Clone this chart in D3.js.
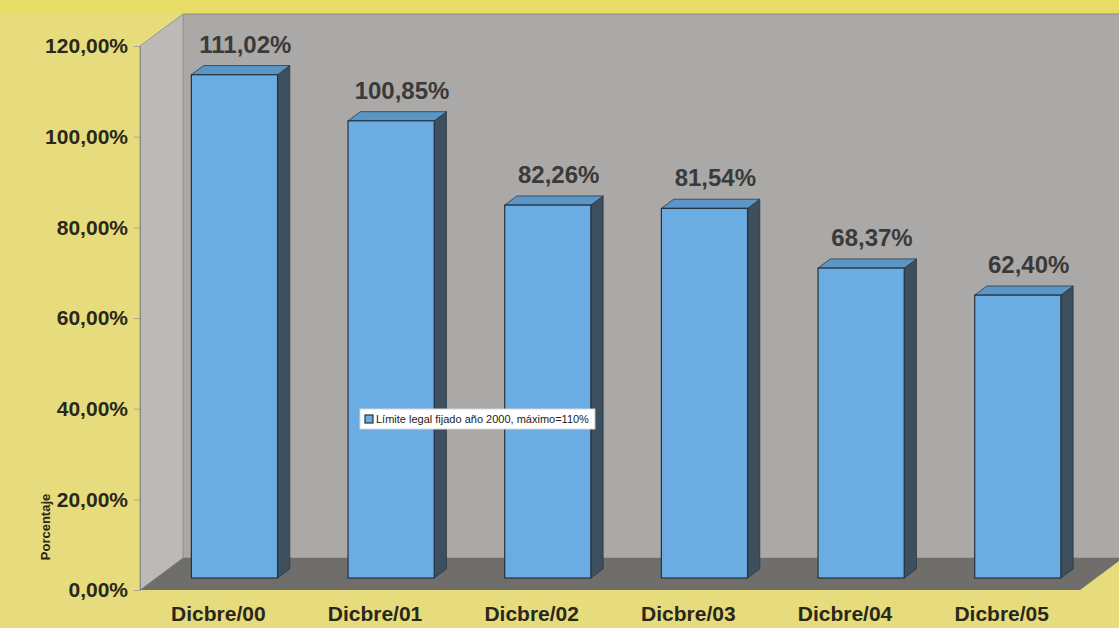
<!DOCTYPE html>
<html><head><meta charset="utf-8">
<script src="https://cdn.jsdelivr.net/npm/d3@7"></script>
<style>html,body{margin:0;padding:0;background:#e6dc7c;}svg{display:block;}</style>
</head><body>
<svg id="c" width="1119" height="628"></svg>
<script>
const categories = ["Dicbre/00","Dicbre/01","Dicbre/02","Dicbre/03","Dicbre/04","Dicbre/05"];
const values = [111.02, 100.85, 82.26, 81.54, 68.37, 62.40];
const valueLabels = ["111,02%","100,85%","82,26%","81,54%","68,37%","62,40%"];
const tickValues = [0,20,40,60,80,100,120];
const tickLabels = ["0,00%","20,00%","40,00%","60,00%","80,00%","100,00%","120,00%"];
const legendLabel = "Límite legal fijado año 2000, máximo=110%";
const axisTitle = "Porcentaje";

const svg = d3.select("#c");
const W = 1119, H = 628;
const DX = 43, DY = -32;           // full depth offset
const x0 = 140, x1 = 1080;
const y = d3.scaleLinear().domain([0,120]).range([590,46]);
const x = d3.scaleBand().domain(categories).range([x0,x1]).paddingInner(0.45).paddingOuter(0.225);
const P = (px, v, d) => [px + d*DX, y(v) + d*DY];
const poly = pts => pts.map(p => p.join(",")).join(" ");

// background
svg.append("rect").attr("width",W).attr("height",H).attr("fill","#e6dc7e");
svg.append("rect").attr("width",W).attr("height",14).attr("fill","#e7dc64");

// back wall
svg.append("polygon").attr("points", poly([P(x0,120,1),P(x1,120,1),P(x1,0,1),P(x0,0,1)]))
  .attr("fill","#aba8a8").attr("stroke","#8e8c8a").attr("stroke-width",1);
// left wall
svg.append("polygon").attr("points", poly([P(x0,120,0),P(x0,120,1),P(x0,0,1),P(x0,0,0)]))
  .attr("fill","#bdb9b6").attr("stroke","#9a9794").attr("stroke-width",1);
// floor
svg.append("polygon").attr("points", poly([P(x0,0,0),P(x0,0,1),P(x1,0,1),P(x1,0,0)]))
  .attr("fill","#6f6e6b");

// bars
const dFront = 0.375, dBack = 0.66;
const bars = svg.append("g");
categories.forEach((c,i) => {
  const v = values[i];
  const l = x(c), r = x(c) + x.bandwidth();
  const g = bars.append("g");
  g.append("polygon").attr("points", poly([P(r,v,dFront),P(r,v,dBack),P(r,0,dBack),P(r,0,dFront)]))
    .attr("fill","#3d4e5d").attr("stroke","#2b3844").attr("stroke-width",0.8);
  g.append("polygon").attr("points", poly([P(l,v,dFront),P(l,v,dBack),P(r,v,dBack),P(r,v,dFront)]))
    .attr("fill","#5a97c8").attr("stroke","#2b3844").attr("stroke-width",0.8);
  const [fx, fy] = P(l,v,dFront);
  const [rx, by] = P(r,0,dFront);
  g.append("rect").attr("x",fx).attr("y",fy).attr("width",rx-fx).attr("height",by-fy)
    .attr("fill","#6badE2").attr("stroke","#25313d").attr("stroke-width",1.2);
  svg.append("text").attr("x",(l+r)/2 + 27).attr("y", fy - 22)
    .attr("text-anchor","middle").attr("font-family","Liberation Sans, Arial, sans-serif")
    .attr("font-weight","bold").attr("font-size",24).attr("fill","#3a3a38").text(valueLabels[i]);
});

// y axis
const yAxis = d3.axisLeft(y).tickValues(tickValues).tickSize(6).tickPadding(6)
  .tickFormat(d => tickLabels[tickValues.indexOf(d)]);
const ya = svg.append("g").attr("transform",`translate(${x0},0)`).call(yAxis);
ya.select(".domain").attr("stroke","#8a8880");
ya.selectAll(".tick line").attr("stroke","#a8a290");
ya.selectAll(".tick text").attr("font-family","Liberation Sans, Arial, sans-serif")
  .attr("font-weight","bold").attr("font-size",21).attr("fill","#2a2818");

// x axis
const xAxis = d3.axisBottom(x).tickSize(0).tickPadding(13);
const xa = svg.append("g").attr("transform",`translate(0,${y(0)})`).call(xAxis);
xa.select(".domain").remove();
xa.selectAll(".tick text").attr("font-family","Liberation Sans, Arial, sans-serif")
  .attr("font-weight","bold").attr("font-size",21).attr("fill","#2a2818").attr("dy","0.85em");

// axis title
svg.append("text").attr("transform","translate(50,527) rotate(-90)").attr("text-anchor","middle")
  .attr("font-family","Liberation Sans, Arial, sans-serif").attr("font-weight","bold")
  .attr("font-size",13).attr("fill","#2a2818").text(axisTitle);

// legend
const lg = svg.append("g").attr("transform","translate(360,409)");
const lr = lg.append("rect").attr("height",20).attr("fill","#ffffff").attr("stroke","#d8d8d8");
lg.append("rect").attr("x",5).attr("y",6).attr("width",8).attr("height",8)
  .attr("fill","#6badE2").attr("stroke","#25313d").attr("stroke-width",1.2);
const lt = lg.append("text").attr("x",16).attr("y",14).attr("font-family","Liberation Sans, Arial, sans-serif")
  .attr("font-size",11).attr("fill","#222").text(legendLabel);
lr.attr("width", lt.node().getComputedTextLength() + 22);
</script>
</body></html>
